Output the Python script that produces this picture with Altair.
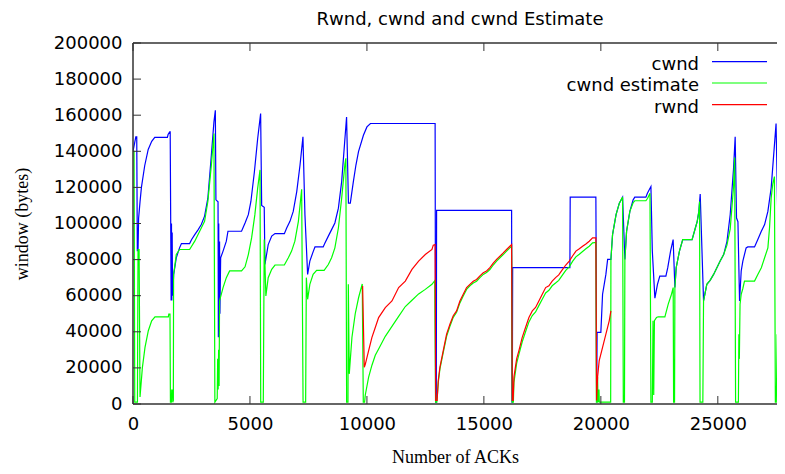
import altair as alt
import pandas as pd

TITLE = "Rwnd, cwnd and cwnd Estimate"
X_TITLE = "Number of ACKs"
Y_TITLE = "window (bytes)"
series_names = ["cwnd", "cwnd estimate", "rwnd"]
x_ticks = [0, 5000, 10000, 15000, 20000, 25000]
y_ticks = [0, 20000, 40000, 60000, 80000, 100000, 120000, 140000, 160000, 180000, 200000]

# (number of ACKs, window bytes)
cwnd = [
    (0, 140000), (120, 148000), (160, 148000), (185, 85000), (215, 85000), (240, 103000),
    (300, 112000), (360, 120000), (500, 132000), (650, 141000), (800, 145500), (930, 147700),
    (1470, 147700), (1500, 149300), (1570, 150800), (1590, 150800), (1610, 104900), (1630, 57300),
    (1645, 100000), (1660, 57300), (1675, 95000), (1690, 60000), (1740, 71800), (1850, 81000),
    (1990, 86500), (2070, 88900), (2420, 88900), (2500, 91000), (2640, 93800), (2780, 96500),
    (2920, 99400), (3060, 104100), (3200, 114000), (3350, 137900), (3460, 156300), (3520, 162700),
    (3545, 113100), (3635, 112000), (3650, 37000), (3665, 100000), (3680, 40000), (3700, 90000),
    (3715, 50000), (3747, 81000), (3850, 84700), (3990, 90200), (4060, 95700), (4640, 95700),
    (4790, 100300), (4930, 104900), (5040, 112200), (5190, 128700), (5330, 147100), (5456, 160900),
    (5500, 110000), (5610, 109000), (5640, 77300), (5780, 88300), (5930, 93000), (6070, 94400),
    (6470, 94400), (6570, 97500), (6710, 101200), (6850, 106700), (7000, 117700), (7140, 132400),
    (7265, 148000), (7350, 104900), (7465, 71800), (7560, 79200), (7710, 84700), (7780, 87000),
    (8130, 87000), (8200, 89000), (8350, 93000), (8490, 96600), (8630, 100300), (8780, 108500),
    (8920, 123200), (9060, 147100), (9130, 159000), (9210, 111300), (9290, 111300), (9420, 123200),
    (9530, 132400), (9640, 139800), (9850, 148900), (10000, 153500), (10150, 155400), (12915, 155400),
    (12935, 1000), (12965, 1000), (12978, 107300), (16185, 107300), (16200, 1000), (16215, 1000),
    (16230, 75500), (18676, 75500), (18690, 114600), (19787, 114600), (19800, 80100), (19820, 1000),
    (19840, 39700), (20000, 39700), (20073, 60800), (20215, 71800), (20290, 80100), (20430, 80100),
    (20500, 93800), (20650, 104900), (20790, 111300), (20929, 114600), (21027, 80100), (21100, 95700),
    (21240, 106700), (21380, 113100), (21450, 114600), (21925, 114600), (21990, 116800), (22140, 120500),
    (22200, 84700), (22310, 58600), (22420, 66300), (22520, 70900), (22780, 70900), (22860, 75500),
    (22980, 84700), (23090, 91100), (23165, 64500), (23220, 75500), (23360, 84700), (23500, 91100),
    (23550, 91100), (23900, 91100), (24040, 97500), (24120, 101200), (24190, 106700), (24247, 116300),
    (24390, 57100), (24530, 66300), (24670, 68500), (24820, 71800), (24960, 75500), (25100, 79200),
    (25250, 82800), (25390, 90000), (25530, 105000), (25670, 130000), (25742, 148000), (25800, 103000),
    (25860, 101000), (25929, 57100), (26000, 73700), (26070, 79200), (26210, 86500), (26280, 87000),
    (26570, 87000), (26710, 91100), (26860, 95700), (27000, 99400), (27140, 106700), (27280, 119600),
    (27420, 143400), (27490, 155400), (27560, 106700), (27640, 106000), (27680, 105000), (27720, 74600),
    (27780, 79200), (27880, 81000),
]

cwnd_estimate = [
    (0, 140000), (45, 140000), (75, 1000), (190, 1000), (215, 85600), (260, 85600), (300, 3900),
    (400, 20000), (513, 31400), (655, 40600), (798, 46100), (940, 48300), (1510, 48300), (1530, 49800),
    (1581, 49800), (1600, 1000), (1640, 1000), (1655, 7700), (1690, 7700), (1700, 1000), (1725, 2000),
    (1735, 71800), (1780, 76000), (1850, 82800), (1990, 85600), (2420, 85600), (2640, 90200),
    (2850, 95700), (3060, 101200), (3200, 112200), (3350, 132400), (3460, 149900), (3500, 1000),
    (3600, 3000), (3620, 25000), (3640, 8000), (3660, 30000), (3680, 10000), (3700, 57100),
    (3850, 64500), (3990, 70000), (4130, 73700), (4640, 73700), (4790, 76000), (4930, 82800),
    (5070, 92000), (5210, 104900), (5330, 119600), (5430, 129700), (5460, 1000), (5570, 1000),
    (5610, 91100), (5680, 59900), (5780, 70000), (5930, 74600), (6070, 77000), (6470, 77000),
    (6640, 81000), (6780, 84700), (6920, 90200), (7070, 101200), (7210, 119000), (7270, 1000),
    (7380, 1000), (7410, 70000), (7465, 58000), (7560, 66300), (7700, 71800), (7850, 74000),
    (8170, 74000), (8350, 77300), (8490, 81000), (8630, 86500), (8780, 97500), (8920, 114000),
    (9060, 133000), (9100, 136100), (9132, 1000), (9190, 1000), (9205, 66300), (9245, 16700),
    (9360, 37000), (9500, 50000), (9645, 59000), (9800, 66500), (9845, 1000), (9900, 1000),
    (9930, 5000), (10073, 14900), (10214, 21500), (10357, 27000), (10500, 30500), (10785, 37500),
    (11070, 43000), (11356, 48500), (11641, 54000), (11925, 57500), (12210, 61000), (12495, 63500),
    (12780, 66300), (12900, 68300), (12935, 1000), (12990, 1000), (13050, 12000), (13121, 19500),
    (13263, 28600), (13406, 37500), (13548, 43000), (13690, 48000), (13833, 50800), (13975, 56000),
    (14117, 59800), (14260, 63500), (14402, 65500), (14546, 67000), (14687, 68000), (14830, 70000),
    (14973, 71800), (15115, 72800), (15257, 74500), (15400, 77000), (15543, 79200), (15685, 81000),
    (15827, 82800), (15970, 84700), (16112, 86500), (16185, 87400), (16210, 1000), (16260, 1000),
    (16284, 12000), (16400, 22500), (16497, 27500), (16639, 34500), (16780, 40000), (16925, 45500),
    (17070, 49000), (17210, 51000), (17350, 54500), (17495, 58000), (17640, 61500), (17780, 63000),
    (17920, 65500), (18065, 67000), (18200, 68500), (18364, 71500), (18500, 74000), (18649, 76000),
    (18790, 79000), (18933, 81500), (19080, 83000), (19220, 84500), (19360, 86000), (19504, 87400),
    (19646, 89300), (19788, 89500), (19810, 1000), (19850, 1000), (19860, 14900), (19880, 1000),
    (19920, 8000), (19935, 1000), (20420, 1000), (20430, 80100), (20500, 93800), (20650, 104900),
    (20790, 111300), (20929, 114600), (20960, 1000), (21010, 1000), (21027, 80100), (21100, 95700),
    (21240, 106700), (21380, 111500), (21450, 112600), (21925, 112600), (22000, 114000), (22100, 116800),
    (22140, 1000), (22200, 1000), (22230, 46100), (22260, 5000), (22290, 46100), (22380, 47900),
    (22450, 48300), (22737, 48300), (22880, 55300), (23020, 60800), (23092, 64500), (23110, 1000),
    (23150, 1000), (23165, 64500), (23220, 75500), (23360, 84700), (23500, 91100), (23550, 91100),
    (23900, 91100), (24040, 97500), (24120, 101200), (24190, 106700), (24220, 112200), (24240, 1000),
    (24360, 1000), (24390, 57100), (24530, 66300), (24670, 68500), (24820, 71800), (24960, 75500),
    (25100, 79200), (25250, 82800), (25390, 88000), (25530, 97000), (25670, 120000), (25720, 136500),
    (25760, 1000), (25880, 1000), (25900, 38700), (25920, 25000), (25950, 55300), (26000, 60800),
    (26070, 64000), (26140, 68100), (26570, 68100), (26710, 71800), (26860, 75500), (27000, 81000),
    (27140, 86500), (27210, 97500), (27280, 114000), (27350, 122000), (27420, 126000), (27460, 1000),
    (27500, 1000), (27540, 38700), (27570, 10000), (27600, 22000), (27630, 5000), (27660, 18000),
    (27700, 8000), (27740, 20000), (27780, 9000), (27820, 15000), (27880, 12000),
]

rwnd = [
    (9816, 65400), (9887, 20400), (9930, 22000), (10073, 29600), (10214, 36900), (10357, 42400),
    (10500, 47900), (10785, 53400), (11070, 57100), (11356, 64500), (11641, 68100), (11925, 74600),
    (12210, 79200), (12495, 82800), (12780, 85600), (12836, 88000), (12915, 88300), (12940, 2000),
    (13000, 2000), (13050, 13000), (13121, 20400), (13263, 29600), (13406, 38700), (13548, 44200),
    (13690, 48900), (13833, 51600), (13975, 57100), (14117, 60800), (14260, 64500), (14402, 66300),
    (14546, 68000), (14687, 69000), (14830, 71000), (14973, 72700), (15115, 73700), (15257, 75500),
    (15400, 78000), (15543, 80100), (15685, 81900), (15827, 83700), (15970, 85600), (16112, 87400),
    (16185, 88300), (16215, 2000), (16250, 2000), (16284, 14900), (16400, 25000), (16497, 29600),
    (16639, 36900), (16780, 42400), (16925, 47900), (17070, 51600), (17210, 53500), (17350, 57100),
    (17495, 60800), (17640, 64500), (17780, 65500), (17920, 68100), (18065, 70000), (18200, 71500),
    (18364, 74600), (18500, 77000), (18649, 79200), (18790, 82000), (18933, 84700), (19080, 86000),
    (19220, 87400), (19360, 88700), (19504, 90200), (19646, 92000), (19788, 92000), (19817, 2000),
    (19860, 14900), (19930, 24100), (20073, 31400), (20215, 38700), (20358, 46100), (20430, 51600),
]

COLORS = ["#0000ff", "#00ff00", "#ff0000"]
BORDER = "#333333"
W, H = 644, 361          # plot area; the reference's right border lies just outside the picture
X_MAX = 27530
FONT = "DejaVu Sans"
SERIF = "Liberation Serif"


def frame(points, name):
    return pd.DataFrame({
        "acks": [p[0] for p in points],
        "bytes": [p[1] for p in points],
        "series": name,
        "i": list(range(len(points))),
    })


xs = alt.Scale(domain=[0, X_MAX], nice=False, zero=False)
ys = alt.Scale(domain=[0, 200000], nice=False, zero=False)

x_axis = alt.Axis(values=x_ticks, title=X_TITLE, grid=False, ticks=False, domain=False,
                  labelFont=FONT, labelFontSize=18, labelColor="black", labelPadding=11,
                  labelFlush=False, labelOverlap=False, format="d",
                  titleFont=SERIF, titleFontSize=18, titleFontWeight="normal", titleColor="black",
                  titleY=58, titleBaseline="alphabetic")
y_axis = alt.Axis(values=y_ticks, title=Y_TITLE, grid=False, ticks=False, domain=False,
                  labelFont=FONT, labelFontSize=18, labelColor="black", labelPadding=11,
                  labelFlush=False, labelOverlap=False, format="d",
                  titleFont=SERIF, titleFontSize=18, titleFontWeight="normal", titleColor="black",
                  titleAngle=270, titleX=-111, titleY=H / 2, titleAlign="center",
                  titleBaseline="middle")

layers = []
for pts, name, col in zip([cwnd, cwnd_estimate, rwnd], series_names, COLORS):
    layers.append(
        alt.Chart(frame(pts, name)).mark_line(color=col, strokeWidth=1.2, clip=True).encode(
            x=alt.X("acks:Q", scale=xs, axis=x_axis),
            y=alt.Y("bytes:Q", scale=ys, axis=y_axis),
            order="i:Q",
        )
    )

xt = pd.DataFrame({"acks": x_ticks})
yt = pd.DataFrame({"bytes": y_ticks})
tick_style = dict(color=BORDER, strokeWidth=1)
layers.append(alt.Chart(xt).mark_rule(**tick_style).encode(
    x=alt.X("acks:Q", scale=xs, axis=x_axis), y=alt.value(H), y2=alt.value(H - 8)))
layers.append(alt.Chart(xt).mark_rule(**tick_style).encode(
    x=alt.X("acks:Q", scale=xs, axis=x_axis), y=alt.value(0), y2=alt.value(8)))
layers.append(alt.Chart(yt).mark_rule(**tick_style).encode(
    y=alt.Y("bytes:Q", scale=ys, axis=y_axis), x=alt.value(0), x2=alt.value(8)))

# border: left, top, bottom (right edge is off the picture in the reference)
bdf = pd.DataFrame({"k": [0]})
border_style = dict(color=BORDER, strokeWidth=1.5)
layers.append(alt.Chart(bdf).mark_rule(**border_style).encode(
    x=alt.value(0), y=alt.value(0), y2=alt.value(H)))
layers.append(alt.Chart(bdf).mark_rule(**border_style).encode(
    x=alt.value(0), x2=alt.value(W + 8), y=alt.value(0)))
layers.append(alt.Chart(bdf).mark_rule(**border_style).encode(
    x=alt.value(0), x2=alt.value(W + 8), y=alt.value(H)))

# legend (gnuplot style: text left of sample line)
legend_y = [18.7, 40, 61.7]
for name, col, ly in zip(series_names, COLORS, legend_y):
    ldf = pd.DataFrame({"label": [name]})
    layers.append(alt.Chart(ldf).mark_text(align="right", baseline="alphabetic", font=FONT,
                                           fontSize=18, color="black").encode(
        text="label:N", x=alt.value(566), y=alt.value(ly + 8)))
    layers.append(alt.Chart(ldf).mark_rule(color=col, strokeWidth=1.2).encode(
        x=alt.value(579), x2=alt.value(634), y=alt.value(ly)))

# chart title drawn as text above the plot
tdf = pd.DataFrame({"label": [TITLE]})
layers.append(alt.Chart(tdf).mark_text(align="center", baseline="alphabetic", font=FONT,
                                       fontSize=18, color="black").encode(
    text="label:N", x=alt.value(327), y=alt.value(-18)))

chart = alt.layer(*layers).properties(
    width=W, height=H,
    padding={"left": 125, "top": 35, "right": 0, "bottom": 62},
    autosize=alt.AutoSizeParams(type="none"),
    background="white",
).configure_view(stroke=None)

chart.save("out.html", embed_options={"renderer": "svg", "actions": False})
